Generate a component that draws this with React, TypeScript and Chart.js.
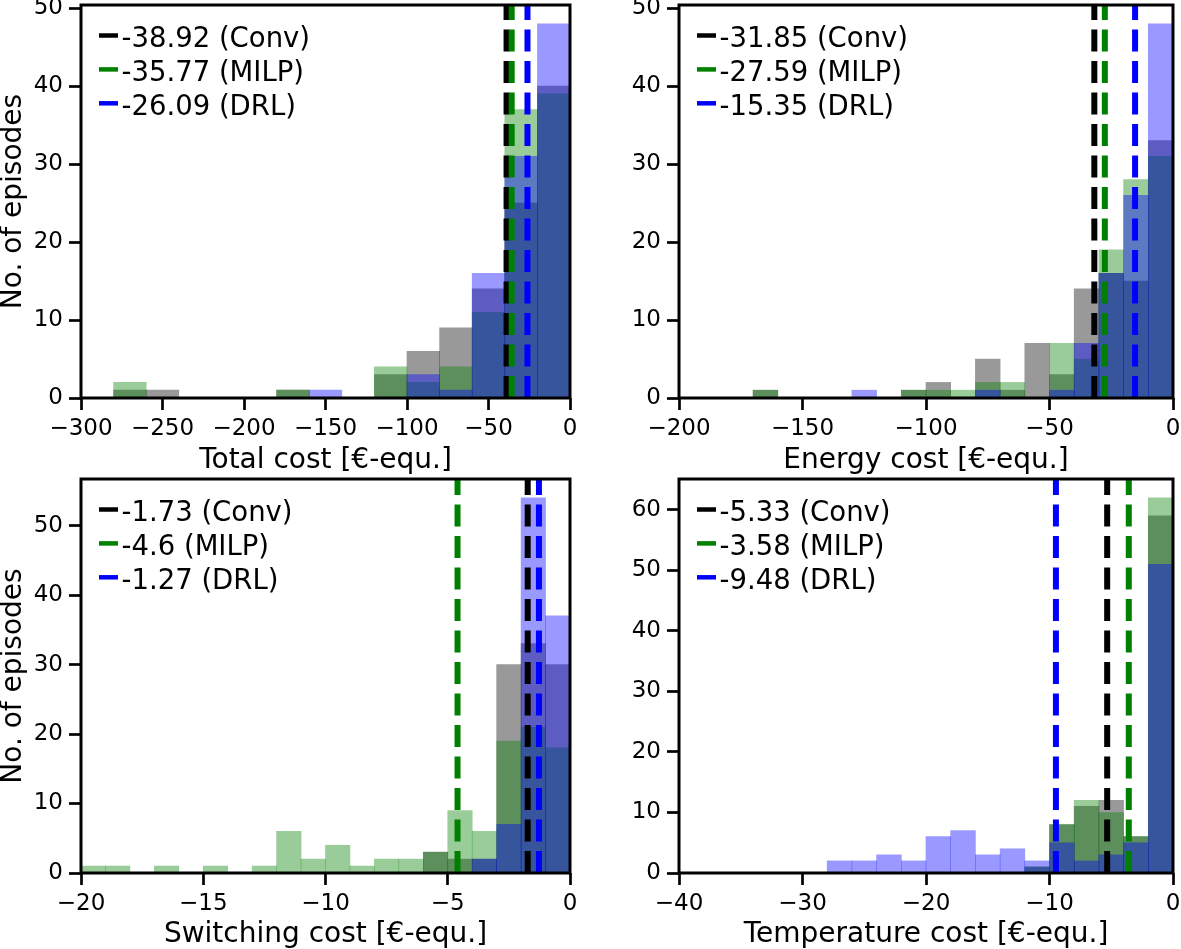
import React, { useEffect, useRef } from 'react';
import { Chart, registerables } from 'chart.js';

Chart.register(...registerables);

const FONT = "'DejaVu Sans', sans-serif";

// ---------- Panel 1: Total cost ----------
const totalBins = [-270, -250, -230, -210, -190, -170, -150, -130, -110, -90, -70, -50, -30, -10];
const totalConv = [1, 1, 0, 0, 0, 1, 0, 0, 3, 6, 9, 14, 25, 40];
const totalMilp = [2, 0, 0, 0, 0, 1, 0, 0, 4, 2, 4, 11, 37, 39];
const totalDrl = [0, 0, 0, 0, 0, 0, 1, 0, 0, 3, 1, 16, 31, 48];
const totalMeans = [-38.92, -35.77, -26.09];
const totalXTicks = [-300, -250, -200, -150, -100, -50, 0];
const totalYTicks = [0, 10, 20, 30, 40, 50];

// ---------- Panel 2: Energy cost ----------
const energyBins = [-165, -155, -145, -135, -125, -115, -105, -95, -85, -75, -65, -55, -45, -35, -25, -15, -5];
const energyConv = [1, 0, 0, 0, 0, 0, 1, 2, 0, 5, 1, 7, 3, 14, 16, 15, 33];
const energyMilp = [1, 0, 0, 0, 0, 0, 1, 1, 1, 2, 2, 0, 7, 5, 19, 28, 31];
const energyDrl = [0, 0, 0, 0, 1, 0, 0, 0, 0, 1, 0, 0, 1, 7, 16, 26, 48];
const energyMeans = [-31.85, -27.59, -15.35];
const energyXTicks = [-200, -150, -100, -50, 0];
const energyYTicks = [0, 10, 20, 30, 40, 50];

// ---------- Panel 3: Switching cost ----------
const switchBins = [-19.5, -18.5, -17.5, -16.5, -15.5, -14.5, -13.5, -12.5, -11.5, -10.5, -9.5, -8.5, -7.5, -6.5, -5.5, -4.5, -3.5, -2.5, -1.5, -0.5];
const switchConv = [0, 0, 0, 0, 0, 0, 0, 0, 0, 0, 0, 0, 0, 0, 3, 2, 2, 30, 33, 30];
const switchMilp = [1, 1, 0, 1, 0, 1, 0, 1, 6, 2, 4, 1, 2, 2, 3, 9, 6, 19, 21, 18];
const switchDrl = [0, 0, 0, 0, 0, 0, 0, 0, 0, 0, 0, 0, 0, 0, 0, 0, 2, 7, 54, 37];
const switchMeans = [-1.73, -4.6, -1.27];
const switchXTicks = [-20, -15, -10, -5, 0];
const switchYTicks = [0, 10, 20, 30, 40, 50];

// ---------- Panel 4: Temperature cost ----------
const tempBins = [-27, -25, -23, -21, -19, -17, -15, -13, -11, -9, -7, -5, -3, -1];
const tempConv = [0, 0, 0, 0, 0, 0, 0, 0, 1, 8, 11, 12, 6, 59];
const tempMilp = [0, 0, 0, 0, 0, 0, 0, 0, 1, 8, 12, 10, 6, 62];
const tempDrl = [2, 2, 3, 2, 6, 7, 3, 4, 2, 5, 2, 3, 5, 51];
const tempMeans = [-5.33, -3.58, -9.48];
const tempXTicks = [-40, -30, -20, -10, 0];
const tempYTicks = [0, 10, 20, 30, 40, 50, 60];

const seriesNames = ['Conv', 'MILP', 'DRL'];
const lineColors = ['#000000', '#008000', '#0000ff'];
const barColors = ['rgba(0,0,0,0.4)', 'rgba(0,128,0,0.4)', 'rgba(0,0,255,0.4)'];

const fmt = (v: number) => (v < 0 ? '\u2212' + Math.abs(v) : String(v));

type PanelProps = {
  left: number; top: number; width: number; height: number;
  padTop: number; padRight: number; yWidth: number; xHeight: number;
  bins: number[]; conv: number[]; milp: number[]; drl: number[]; means: number[];
  xMin: number; xMax: number; yMax: number; xTicks: number[]; yTicks: number[];
  xTitle: string; yTitle?: string; xTitlePad: number;
};

const framePlugin = {
  id: 'frame',
  afterDraw(chart: any) {
    const { ctx, chartArea } = chart;
    ctx.save();
    ctx.strokeStyle = '#000';
    ctx.lineWidth = 3;
    ctx.strokeRect(chartArea.left, chartArea.top, chartArea.right - chartArea.left, chartArea.bottom - chartArea.top);
    ctx.restore();
  },
};

const legendPlugin = {
  id: 'meanLegend',
  afterDatasetsDraw(chart: any) {
    const { ctx, chartArea } = chart;
    const rows = chart.data.datasets.filter((d: any) => d.type === 'line');
    ctx.save();
    rows.forEach((r: any, i: number) => {
      const y = chartArea.top + 30.5 + i * 33.9;
      ctx.strokeStyle = r.borderColor;
      ctx.lineWidth = 4.5;
      ctx.setLineDash([]);
      ctx.beginPath();
      ctx.moveTo(chartArea.left + 18, y);
      ctx.lineTo(chartArea.left + 37, y);
      ctx.stroke();
      ctx.fillStyle = '#000';
      ctx.font = `27.5px ${FONT}`;
      ctx.textBaseline = 'alphabetic';
      ctx.textAlign = 'left';
      ctx.fillText(r.label, chartArea.left + 40.5, y + 11.4);
    });
    ctx.restore();
  },
};

function Panel(p: PanelProps) {
  const ref = useRef<HTMLCanvasElement>(null);
  useEffect(() => {
    if (!ref.current) return;
    const toPts = (arr: number[]) => p.bins.map((b, i) => ({ x: b, y: arr[i] }));
    const series = [p.conv, p.milp, p.drl];
    const bars = series.map((s, i) => ({
      type: 'bar',
      label: seriesNames[i] + ' histogram',
      data: toPts(s),
      backgroundColor: barColors[i],
      borderWidth: 0,
      grouped: false,
      barPercentage: 1,
      categoryPercentage: 1,
      order: 3 - i,
    }));
    const lines = p.means.map((m, i) => ({
      type: 'line',
      label: `${m} (${seriesNames[i]})`,
      data: [{ x: m, y: 0 }, { x: m, y: p.yMax }],
      borderColor: lineColors[i],
      backgroundColor: lineColors[i],
      borderWidth: 6,
      borderDash: [22, 9.5],
      pointRadius: 0,
      fill: false,
      order: -1 - i,
    }));
    const chart = new Chart(ref.current, {
      type: 'bar',
      data: { datasets: [...bars, ...lines] as any },
      options: {
        animation: false,
        responsive: false,
        events: [],
        layout: { padding: { top: p.padTop, right: p.padRight, left: 0, bottom: 0 } },
        plugins: { legend: { display: false }, tooltip: { enabled: false } },
        scales: {
          x: {
            type: 'linear',
            min: p.xMin,
            max: p.xMax,
            offset: false,
            afterBuildTicks: (ax: any) => { ax.ticks = p.xTicks.map((v) => ({ value: v })); },
            afterFit: (ax: any) => { ax.height = p.xHeight; ax.paddingLeft = 0; ax.paddingRight = 0; },
            grid: { display: true, drawOnChartArea: false, drawTicks: true, tickLength: 12, tickWidth: 2.7, tickColor: '#000', offset: false },
            border: { display: false },
            ticks: { color: '#000', font: { family: FONT, size: 23 }, padding: 5, maxRotation: 0, autoSkip: false, callback: (v: any) => fmt(Number(v)) },
            title: { display: true, text: p.xTitle, color: '#000', font: { family: FONT, size: 28, lineHeight: 1 }, padding: { top: 0, bottom: p.xTitlePad } },
          },
          y: {
            type: 'linear',
            min: 0,
            max: p.yMax,
            afterBuildTicks: (ax: any) => { ax.ticks = p.yTicks.map((v) => ({ value: v })); },
            afterFit: (ax: any) => { ax.width = p.yWidth; ax.paddingTop = 0; ax.paddingBottom = 0; },
            grid: { display: true, drawOnChartArea: false, drawTicks: true, tickLength: 12, tickWidth: 2.7, tickColor: '#000' },
            border: { display: false },
            ticks: { color: '#000', font: { family: FONT, size: 23 }, padding: 6, autoSkip: false, callback: (v: any) => fmt(Number(v)) },
            title: { display: !!p.yTitle, text: p.yTitle || '', color: '#000', font: { family: FONT, size: 28, lineHeight: 1 }, padding: { top: 0, bottom: 0 } },
          },
        },
      } as any,
      plugins: [legendPlugin, framePlugin],
    });
    return () => chart.destroy();
  }, []);
  return (
    <canvas
      ref={ref}
      width={p.width}
      height={p.height}
      style={{ position: 'absolute', left: p.left, top: p.top, width: p.width, height: p.height }}
    />
  );
}

export default function App() {
  return (
    <div style={{ position: 'absolute', left: 0, top: 0, width: 1181, height: 949, background: '#fff', overflow: 'hidden' }}>
      <Panel left={0} top={0} width={590} height={479} padTop={5} padRight={20} yWidth={81} xHeight={81}
        bins={totalBins} conv={totalConv} milp={totalMilp} drl={totalDrl} means={totalMeans}
        xMin={-300} xMax={0} yMax={50.4} xTicks={totalXTicks} yTicks={totalYTicks}
        xTitle="Total cost [€-equ.]" yTitle="No. of episodes" xTitlePad={4.5} />
      <Panel left={590} top={0} width={591} height={479} padTop={5} padRight={8} yWidth={89} xHeight={81}
        bins={energyBins} conv={energyConv} milp={energyMilp} drl={energyDrl} means={energyMeans}
        xMin={-200} xMax={0} yMax={50.4} xTicks={energyXTicks} yTicks={energyYTicks}
        xTitle="Energy cost [€-equ.]" xTitlePad={4.5} />
      <Panel left={0} top={470} width={590} height={479} padTop={9} padRight={20} yWidth={81} xHeight={76}
        bins={switchBins} conv={switchConv} milp={switchMilp} drl={switchDrl} means={switchMeans}
        xMin={-20} xMax={0} yMax={56.7} xTicks={switchXTicks} yTicks={switchYTicks}
        xTitle="Switching cost [€-equ.]" yTitle="No. of episodes" xTitlePad={0} />
      <Panel left={590} top={470} width={591} height={479} padTop={9} padRight={8} yWidth={89} xHeight={76}
        bins={tempBins} conv={tempConv} milp={tempMilp} drl={tempDrl} means={tempMeans}
        xMin={-40} xMax={0} yMax={65.1} xTicks={tempXTicks} yTicks={tempYTicks}
        xTitle="Temperature cost [€-equ.]" xTitlePad={0} />
    </div>
  );
}
